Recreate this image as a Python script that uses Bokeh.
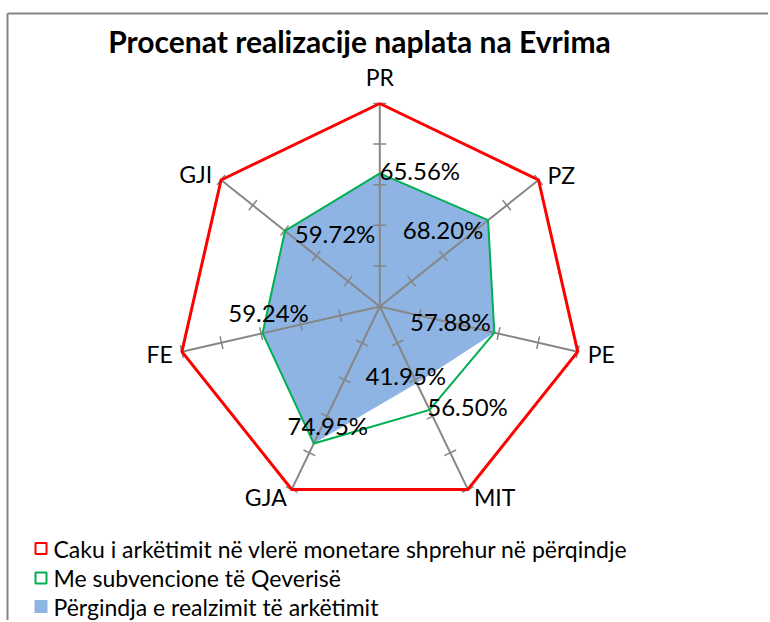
import math
from bokeh.plotting import figure
from bokeh.models import Range1d, ColumnDataSource
from bokeh.core.properties import value
from bokeh.embed import file_html
from bokeh.resources import INLINE

# ---------------- data ----------------
categories = ["PR", "PZ", "PE", "MIT", "GJA", "FE", "GJI"]
target_pct = [100.0, 100.0, 100.0, 100.0, 100.0, 100.0, 100.0]
subsidy_pct = [65.56, 68.20, 57.88, 56.50, 74.95, 59.24, 59.72]
realization_pct = [65.56, 68.20, 57.88, 41.95, 74.95, 59.24, 59.72]
axis_ticks = [20, 40, 60, 80, 100]
axis_max = 100.0

title_text = "Procenat realizacije naplata na Evrima"
legend_labels = [
    "Caku i arkëtimit në vlerë monetare shprehur në përqindje",
    "Me subvencione të Qeverisë",
    "Përgindja e realzimit të arkëtimit",
]

# ---------------- layout / style ----------------
W, H = 768, 620
CX, CY = 379.3, 306.0     # radar centre (pixels)
R = 203.0                 # radius of axis_max
FONT = "Lato"
GRAY = "#868686"
RED = "#FF0000"
GREEN = "#00B050"
BLUE = "#8EB4E3"

n = len(categories)
angles = [2 * math.pi * k / n for k in range(n)]


def to_xy(vals):
    xs, ys = [], []
    for v, a in zip(vals, angles):
        r = v / axis_max * R
        xs.append(CX + r * math.sin(a))
        ys.append(CY - r * math.cos(a))
    return xs, ys


p = figure(width=W, height=H, output_backend="svg", toolbar_location=None,
           x_range=Range1d(0, W), y_range=Range1d(H, 0),
           x_axis_location=None, y_axis_location=None,
           min_border=0, outline_line_color=None)
p.grid.visible = False
p.background_fill_color = "white"
p.border_fill_color = "white"

# chart frame (top + left edges visible in reference)
p.segment(x0=[7, 7], y0=[13, 13], x1=[W, 7], y1=[13, H], line_color=GRAY, line_width=2)

# blue filled area
bx, by = to_xy(realization_pct)
p.patch(bx, by, fill_color=BLUE, line_color=None)

# radial axes
ex, ey = to_xy([axis_max] * n)
p.segment(x0=[CX] * n, y0=[CY] * n, x1=ex, y1=ey, line_color=GRAY, line_width=2)

# cross tick marks
tx0, ty0, tx1, ty1 = [], [], [], []
half = 6.5
for a in angles:
    for t in axis_ticks:
        r = t / axis_max * R
        px = CX + r * math.sin(a)
        py = CY - r * math.cos(a)
        dx, dy = math.cos(a) * half, math.sin(a) * half
        tx0.append(px - dx); ty0.append(py - dy)
        tx1.append(px + dx); ty1.append(py + dy)
p.segment(x0=tx0, y0=ty0, x1=tx1, y1=ty1, line_color=GRAY, line_width=1.5)

# green line
gx, gy = to_xy(subsidy_pct)
p.line(gx + gx[:1], gy + gy[:1], line_color=GREEN, line_width=2, line_join="miter")

# red line
rx, ry = to_xy(target_pct)
p.line(rx + rx[:1], ry + ry[:1], line_color=RED, line_width=3, line_join="miter")

# data labels
blue_off = [(40, -3), (-45, 9), (-44, -11), (-11, -8), (14, -18), (6, -21), (50, 3)]
green_off = {3: (38, -3)}
lx, ly, lt, lxo, lyo = [], [], [], [], []
for k in range(n):
    lx.append(bx[k]); ly.append(by[k])
    lt.append(f"{realization_pct[k]:.2f}%")
    lxo.append(blue_off[k][0]); lyo.append(blue_off[k][1])
for k in range(n):
    if subsidy_pct[k] != realization_pct[k]:
        lx.append(gx[k]); ly.append(gy[k])
        lt.append(f"{subsidy_pct[k]:.2f}%")
        o = green_off.get(k, (30, 0))
        lxo.append(o[0]); lyo.append(o[1])
lab_src = ColumnDataSource(dict(x=lx, y=ly, text=lt, xo=lxo, yo=lyo))
p.text(x="x", y="y", text="text", x_offset="xo", y_offset="yo", source=lab_src,
       text_font=value(FONT), text_font_size="24px", text_color="black",
       text_align="center", text_baseline="middle")

# category labels
cat_off = [(0, -27, "center"), (9, -5, "left"), (10, 2, "left"), (6, 8, "left"),
           (-5, 8, "right"), (-9, 2, "right"), (-9, -6, "right")]
for align in ("center", "left", "right"):
    idx = [k for k in range(n) if cat_off[k][2] == align]
    src = ColumnDataSource(dict(
        x=[ex[k] for k in idx], y=[ey[k] for k in idx],
        text=[categories[k] for k in idx],
        xo=[cat_off[k][0] for k in idx], yo=[cat_off[k][1] for k in idx]))
    p.text(x="x", y="y", text="text", x_offset="xo", y_offset="yo", source=src,
           text_font=value(FONT), text_font_size="23px", text_color="black",
           text_align=align, text_baseline="middle")

# title
p.text(x=[359], y=[40], text=[title_text], text_font=value(FONT),
       text_font_size="30px", text_font_style="bold", text_color="black",
       text_align="center", text_baseline="middle")

# legend
leg_y = [548, 577.5, 606]
leg_src = ColumnDataSource(dict(x=[53] * 3, y=leg_y, text=legend_labels))
p.scatter(x=[40.5, 40.5], y=leg_y[:2], marker="square", size=11,
          fill_color="white", line_color=[RED, GREEN], line_width=2)
p.scatter(x=[40.5], y=leg_y[2:], marker="square", size=13,
          fill_color=BLUE, line_color=None)
p.text(x="x", y="y", text="text", source=leg_src, text_font=value(FONT),
       text_font_size="23px", text_color="black",
       text_align="left", text_baseline="middle")

open("out.html", "w").write(file_html(p, INLINE))
